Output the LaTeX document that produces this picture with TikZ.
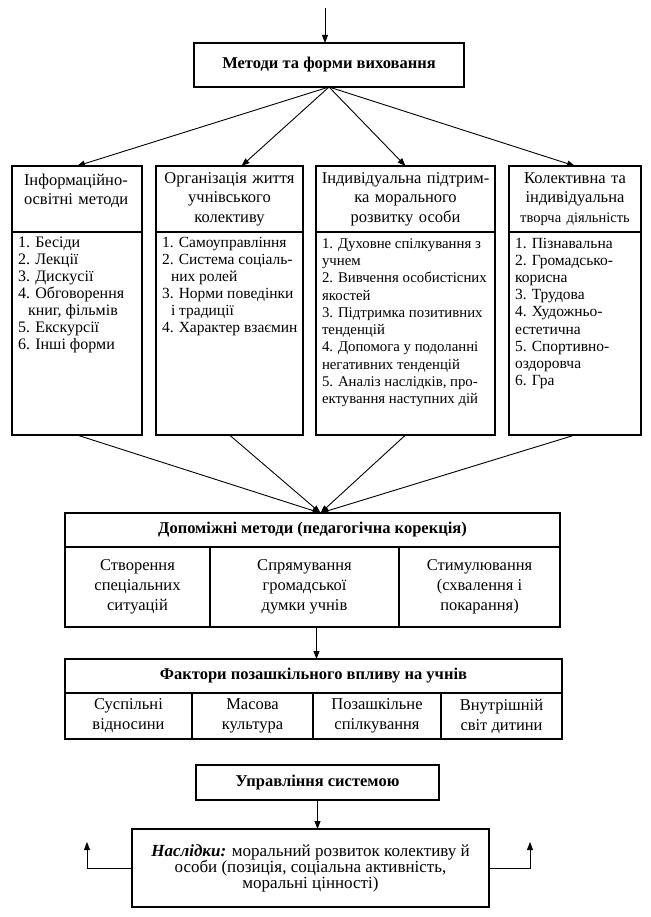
\documentclass[tikz,border=0pt]{standalone}
\usepackage{fontspec}
\setmainfont{Liberation Serif}
\usetikzlibrary{positioning,arrows.meta}
\newcommand{\listpar}[2]{\parbox[c][195pt][t]{#1}{\begin{tabular}[t]{@{}l@{}}#2\end{tabular}}}

\begin{document}
\begin{tikzpicture}[x=1pt,y=-1pt,
    box/.style={draw,line width=1.4pt,inner sep=0pt,outer sep=0pt,align=center,font=\fontsize{16.5}{17}\selectfont},
    head/.style={box,font=\bfseries\fontsize{16.5}{19}\selectfont},
    colhead/.style={box,anchor=north,inner xsep=4pt,minimum height=66pt,font=\fontsize{16.5}{19.5}\selectfont},
    collist/.style={box,inner xsep=6pt,inner ysep=4pt,align=left,font=\fontsize{15.5}{17}\selectfont},
    cell/.style={box,anchor=north west,font=\fontsize{16.5}{20}\selectfont},
    arr/.style={-{Triangle[length=8pt,width=6pt]},line width=0.9pt}
  ]
  \useasboundingbox (0,0) rectangle (650,917);
  \node[head,minimum width=270pt,minimum height=44pt] (mtop) at (329,65) {Методи та форми виховання};
  \coordinate (entry) at (325,8);
  \draw[arr] (entry) -- (entry |- mtop.north);

  \node[colhead,text width=106pt,inner xsep=12pt,align=left] (h1) at (77,166) {Інформаційно-\\освітні методи\\\mbox{}};
  \node[colhead,text width=139pt,right=14pt of h1] (h2) {Організація життя\\учнівського\\колективу};
  \node[colhead,text width=171pt,right=13pt of h2] (h3) {Індивідуальна підтрим-\\ка морального\\розвитку особи};
  \node[colhead,text width=124pt,right=14pt of h3] (h4) {Колективна та\\індивідуальна\\{\fontsize{14.5}{19.5}\selectfont творча діяльність}};

  \node[collist,below=0pt of h1,font=\fontsize{16}{17}\selectfont] (l1) {\listpar{118pt}{1. Бесіди\\2. Лекції\\3. Дискусії\\4. Обговорення\\\hspace*{10pt}книг, фільмів\\5. Екскурсії\\6. Інші форми}};
  \node[collist,below=0pt of h2] (l2) {\listpar{135pt}{1. Самоуправління\\2. Система соціаль-\\\hspace*{9pt}них ролей\\3. Норми поведінки\\\hspace*{9pt}і традиції\\4. Характер взаємин}};
  \node[collist,below=0pt of h3,font=\fontsize{14.8}{17.3}\selectfont] (l3) {\listpar{167pt}{1. Духовне спілкування з\\учнем\\2. Вивчення особистісних\\якостей\\3. Підтримка позитивних\\тенденцій\\4. Допомога у подоланні\\негативних тенденцій\\5. Аналіз наслідків, про-\\ектування наступних дій}};
  \node[collist,below=0pt of h4,font=\fontsize{15.5}{17.2}\selectfont] (l4) {\listpar{120pt}{1. Пізнавальна\\2. Громадсько-\\корисна\\3. Трудова\\4. Художньо-\\естетична\\5. Спортивно-\\оздоровча\\6. Гра}};

  \draw[arr] (mtop.south) -- (h1.north);
  \draw[arr] (mtop.south) -- ([xshift=12pt]h2.north);
  \draw[arr] (mtop.south) -- (h3.north);
  \draw[arr] (mtop.south) -- (h4.north);

  \node[head,minimum width=495pt,minimum height=34pt] (dop) at (312.5,530) {Допоміжні методи (педагогічна корекція)};
  \node[cell,minimum width=145pt,minimum height=80pt] (d1) at (dop.south west) {Створення\\спеціальних\\ситуацій};
  \node[cell,minimum width=189pt,minimum height=80pt,right=0pt of d1] (d2) {Спрямування\\громадської\\думки учнів};
  \node[cell,minimum width=161pt,minimum height=80pt,right=0pt of d2] (d3) {Стимулювання\\(схвалення і\\покарання)};

  \draw[arr] (l1.south) -- ([xshift=8pt]dop.north);
  \draw[arr] (l2.south) -- ([xshift=8pt]dop.north);
  \draw[arr] (l3.south) -- ([xshift=8pt]dop.north);
  \draw[arr] (l4.south) -- ([xshift=8pt]dop.north);

  \node[head,minimum width=497pt,minimum height=34pt] (fak) at (313.5,676) {Фактори позашкільного впливу на учнів};
  \node[cell,minimum width=127pt,minimum height=46pt] (f1) at (fak.south west) {Суспільні\\відносини};
  \node[cell,minimum width=121pt,minimum height=46pt,right=0pt of f1] (f2) {Масова\\культура};
  \node[cell,minimum width=128pt,minimum height=46pt,right=0pt of f2] (f3) {Позашкільне\\спілкування};
  \node[cell,minimum width=121pt,minimum height=46pt,right=0pt of f3] (f4) {Внутрішній\\світ дитини};

  \coordinate (down) at ([xshift=4pt]d2.south -| dop.north);
  \draw[arr] (down) -- (down |- fak.north);

  \node[head,minimum width=243pt,minimum height=35pt] (upr) at (317.5,782.5) {Управління системою};
  \node[box,minimum width=357pt,minimum height=78pt,font=\fontsize{17}{16}\selectfont] (nas) at (310.5,868) {\textbf{\textit{Наслідки:}} моральний розвиток колективу й\\особи (позиція, соціальна активність,\\моральні цінності)};
  \draw[arr] (upr.south) -- (upr.south |- nas.north);

  \coordinate (backl) at (87,842);
  \coordinate (backr) at (530,842);
  \draw[arr] (nas.west) -| (backl);
  \draw[arr] (nas.east) -| (backr);
\end{tikzpicture}
\end{document}
